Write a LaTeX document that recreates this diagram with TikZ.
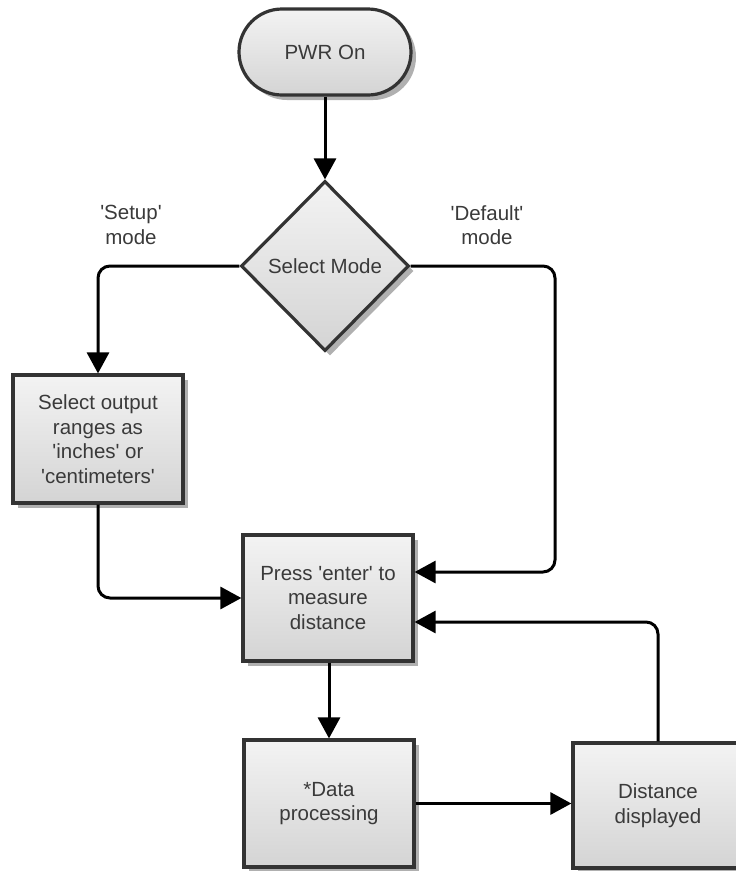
\documentclass[tikz,border=0pt]{standalone}
\usepackage{fontspec}
\setmainfont{Liberation Sans}
\usetikzlibrary{arrows.meta,shapes.geometric,shadows}
\definecolor{bord}{HTML}{333333}
\definecolor{txt}{HTML}{3A3A3A}
\definecolor{shd}{HTML}{B0B0B0}
\definecolor{ftop}{HTML}{F3F3F3}
\definecolor{fbot}{HTML}{D4D4D4}
\newcommand\qq{\textquotesingle}
\begin{document}
\begin{tikzpicture}[x=1pt,y=-1pt,
  every node/.style={font=\fontsize{20.5}{24.5}\selectfont, text=txt},
  shapebase/.style={draw=bord, line width=3.2pt, top color=ftop, bottom color=fbot,
    drop shadow={shadow xshift=5pt, shadow yshift=-5pt, fill=shd, opacity=1},
    align=center, inner sep=0pt},
  flowbox/.style={shapebase, rectangle, minimum width=170pt, minimum height=127pt},
  terminal/.style={shapebase, rectangle, rounded corners=43pt, minimum width=172pt, minimum height=86pt},
  decision/.style={shapebase, diamond, aspect=1, minimum width=168pt, minimum height=170pt},
  lbl/.style={align=center, inner sep=0pt},
  conn/.style={line width=3pt, black, rounded corners=12pt, -{Triangle[length=21pt,width=22pt]}}
]
\fill[white] (0,0) rectangle (736,871);
\useasboundingbox (0,0) rectangle (736,871);

\node[terminal] (pwr) at (325,52) {PWR On};
\node[decision] (dia) at (325,266) {Select Mode};
\node[flowbox, minimum height=128pt] (sel) at (98,439) {Select output\\ranges as\\\qq inches\qq{} or\\\qq centimeters\qq};
\node[flowbox, minimum height=126pt] (enter) at (328,598) {Press \qq enter\qq{} to\\measure\\distance};
\node[flowbox] (data) at (329,803.5) {*Data\\processing};
\node[flowbox, minimum height=125pt] (dist) at (658,805.5) {Distance\\displayed};

\node[lbl] (lsetup) at (131,225) {\qq Setup\qq\\mode};
\node[lbl] (ldef) at (487,225) {\qq Default\qq\\mode};

\coordinate (c1) at (555,572);
\coordinate (c2) at (658,622);

\draw[conn] (pwr.south) -- (dia.north);
\draw[conn] (dia.west) -| (sel.north);
\draw[conn] (dia.east) -| (c1) -- (enter.east |- c1);
\draw[conn] (sel.south) |- (enter.west);
\draw[conn] (enter.south -| data.north) -- (data.north);
\draw[conn] (data.east) -- (dist.west |- data.east);
\draw[conn] (dist.north) |- (enter.east |- c2);
\end{tikzpicture}
\end{document}
